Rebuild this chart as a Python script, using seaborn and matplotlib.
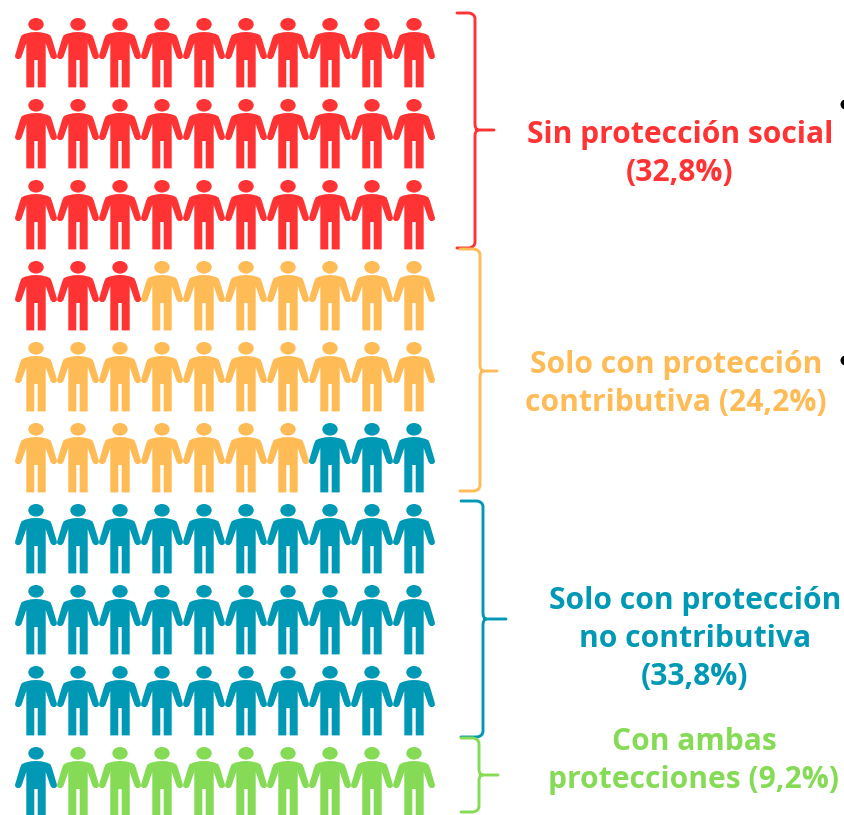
import numpy as np
import pandas as pd
import seaborn as sns
import matplotlib
matplotlib.use("Agg")
import matplotlib.pyplot as plt
from matplotlib.path import Path
from matplotlib.patches import PathPatch
from matplotlib.markers import MarkerStyle
from matplotlib.transforms import Affine2D

categories = ["Sin protección social", "Solo con protección contributiva",
              "Solo con protección no contributiva", "Con ambas protecciones"]
icon_counts = [33, 24, 34, 9]
labels = ["Sin protección social\n(32,8%)", "Solo con protección\ncontributiva (24,2%)",
          "Solo con protección\nno contributiva\n(33,8%)", "Con ambas\nprotecciones (9,2%)"]
colors = ["#FF3333", "#FFBB55", "#0099B5", "#85DB55"]

W, H = 844, 815
COLS, ROWS = 10, 10
X0, DX, Y0, DY = 36, 42, 53, 81

sns.set_theme(style="white")
plt.rcParams["font.family"] = ["Open Sans", "DejaVu Sans"]

def person_marker():
    half = [(0, 21), (5, 20.7), (11, 19.3), (14.3, 17.8), (16, 14), (20.9, -2.5),
            (20.8, -4.5), (19, -6), (16.5, -6), (14.6, -4.2), (9.7, 10),
            (9.7, -34.4), (1.7, -34.4), (1.7, -7), (0, -7)]
    right = np.array(half, float)
    left = right[::-1][1:-1] * [-1, 1]
    body = Path(np.vstack([right, left, right[:1]]), closed=True)
    head = Path.unit_circle().transformed(Affine2D().scale(7.7, 6.3).translate(0, 28.7))
    return MarkerStyle(Path.make_compound_path(body, head))

group = np.repeat(categories, icon_counts)
idx = np.arange(COLS * ROWS)
df = pd.DataFrame({"col": idx % COLS, "row": idx // COLS, "group": group})

fig = plt.figure(figsize=(W / 100, H / 100), dpi=100, facecolor="white")
ax = fig.add_axes([0, 0, 1, 1])
sns.scatterplot(data=df, x="col", y="row", hue="group", hue_order=categories,
                palette=colors, marker=person_marker(), s=(70 * 0.72) ** 2,
                linewidth=0, legend=False, ax=ax, clip_on=False)
ax.set_xlim(-X0 / DX, (W - X0) / DX)
ax.set_ylim((H - Y0) / DY, -Y0 / DY)
ax.axis("off")

# overlay in pixel space for annotation braces and labels
ov = fig.add_axes([0, 0, 1, 1], facecolor="none")
ov.set_xlim(0, W)
ov.set_ylim(H, 0)
ov.axis("off")

def brace(x0, xs, xt, y0, ym, y1, color):
    r, n = 6, 6
    v = [(x0, y0), (xs - r, y0), (xs, y0 + 1), (xs, y0 + r),
         (xs, ym - n), (xs, ym - 1), (xs + 3, ym), (xt, ym),
         (xs + 3, ym), (xs, ym + 1), (xs, ym + n),
         (xs, y1 - r), (xs, y1 - 1), (xs - r, y1), (x0, y1)]
    c = [Path.MOVETO, Path.LINETO, Path.CURVE3, Path.CURVE3,
         Path.LINETO, Path.CURVE3, Path.CURVE3, Path.LINETO,
         Path.MOVETO, Path.CURVE3, Path.CURVE3,
         Path.LINETO, Path.CURVE3, Path.CURVE3, Path.LINETO]
    ov.add_patch(PathPatch(Path(v, c), fc="none", ec=color, lw=2.1, capstyle="round"))

brace(457, 475, 494, 13, 130, 248, colors[0])
brace(460, 480, 497, 249, 371, 491, colors[1])
brace(461, 483, 506, 501, 619, 737, colors[2])
brace(461, 479, 498, 738, 775, 812, colors[3])

label_pos = [(680, 154), (676, 384), (695, 639), (694, 761)]
for (lx, ly), t, c in zip(label_pos, labels, colors):
    ov.text(lx, ly, t, color=c, ha="center", va="center", fontsize=21.6,
            fontweight="bold", linespacing=1.34)

ov.scatter([845, 845], [104, 360], s=52, color="black", linewidth=0, clip_on=True)

fig.savefig("out.png", dpi=100)
